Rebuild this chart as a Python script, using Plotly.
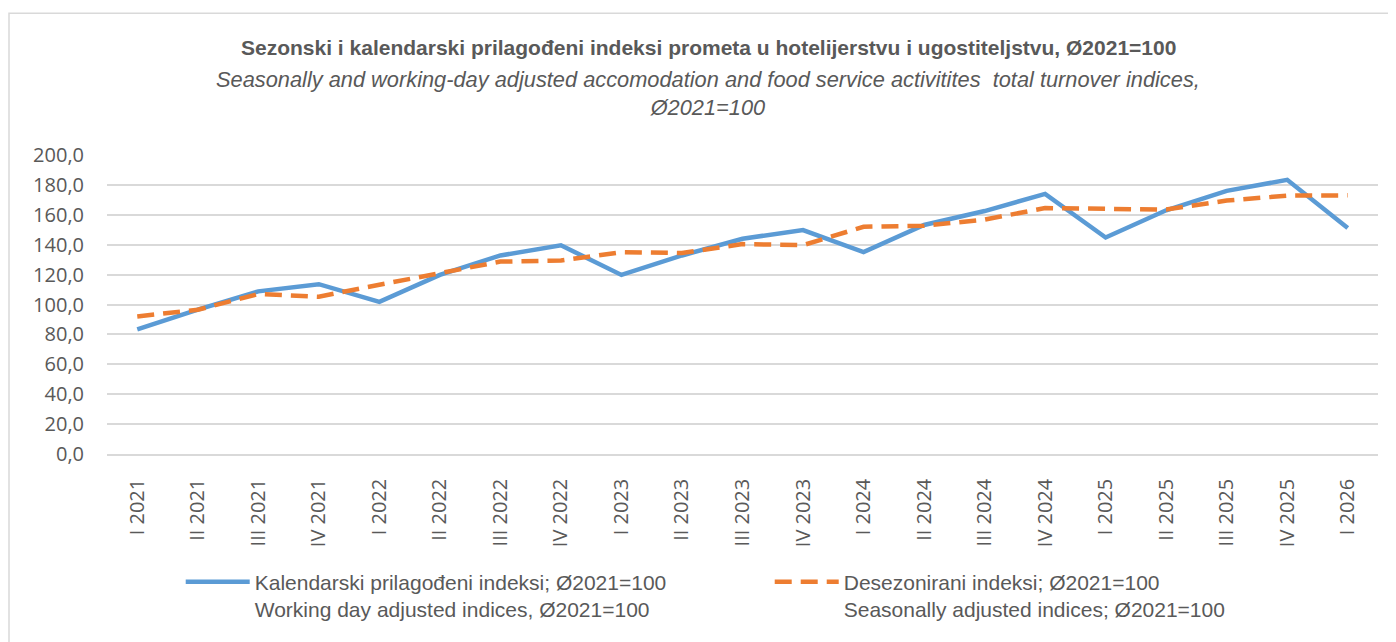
import plotly.graph_objects as go

categories = ["I 2021", "II 2021", "III 2021", "IV 2021",
              "I 2022", "II 2022", "III 2022", "IV 2022",
              "I 2023", "II 2023", "III 2023", "IV 2023",
              "I 2024", "II 2024", "III 2024", "IV 2024",
              "I 2025", "II 2025", "III 2025", "IV 2025",
              "I 2026"]

working_day_adjusted = [83.4, 96.5, 108.8, 113.6,
                        101.8, 119.8, 132.8, 139.6,
                        119.8, 132.8, 144.0, 149.8,
                        135.0, 153.2, 162.5, 174.0,
                        144.8, 163.0, 176.0, 183.4,
                        151.2]

seasonally_adjusted = [92.0, 96.5, 107.0, 105.2,
                       113.2, 120.8, 128.7, 129.4,
                       135.0, 134.4, 140.4, 139.7,
                       152.0, 152.7, 156.8, 164.5,
                       164.2, 163.5, 169.5, 172.8,
                       173.0]

name_blue = "Kalendarski prilagođeni indeksi; Ø2021=100<br>Working day adjusted indices, Ø2021=100"
name_orange = "Desezonirani indeksi; Ø2021=100<br>Seasonally adjusted indices; Ø2021=100"

y_ticks = [0, 20, 40, 60, 80, 100, 120, 140, 160, 180, 200]

TXT = "#595959"
GRID = "#d9d9d9"
sans = "Liberation Sans, Arial, sans-serif"
tickfam = "Open Sans, DejaVu Sans, sans-serif"

fig = go.Figure()
fig.add_trace(go.Scatter(x=categories, y=working_day_adjusted, mode="lines",
                         name=name_blue,
                         line=dict(color="#5b9bd5", width=4.5)))
fig.add_trace(go.Scatter(x=categories, y=seasonally_adjusted, mode="lines",
                         name=name_orange,
                         line=dict(color="#ed7d31", width=4.5, dash="17px,9px")))

fig.update_layout(
    width=1396, height=642,
    paper_bgcolor="white", plot_bgcolor="white",
    margin=dict(l=99, r=26, t=147, b=196),
    separators=", ",
    font=dict(family=tickfam, color=TXT, size=20),
    showlegend=True,
    legend=dict(orientation="h", x=0.058, y=-0.36, xanchor="left", yanchor="top",
                font=dict(family=sans, size=21, color=TXT),
                entrywidth=510, entrywidthmode="pixels", valign="top",
                itemwidth=64, bgcolor="rgba(0,0,0,0)"),
)

fig.add_annotation(
    xref="paper", yref="paper", x=0.473, y=1.358, xanchor="center", yanchor="middle",
    text="<b>Sezonski i kalendarski prilagođeni indeksi prometa u hotelijerstvu i ugostiteljstvu, Ø2021=100</b>",
    showarrow=False, font=dict(family=sans, size=21, color=TXT))
fig.add_annotation(
    xref="paper", yref="paper", x=0.473, y=1.206, xanchor="center", yanchor="middle",
    text="<i>Seasonally and working-day adjusted accomodation and food service activitites  total turnover indices,<br>Ø2021=100</i>",
    showarrow=False, font=dict(family=sans, size=21.8, color=TXT))

fig.add_shape(type="rect", xref="paper", yref="paper",
              x0=-0.0771, x1=1.04, y0=-0.7, y1=1.474,
              line=dict(color=GRID, width=1.5), fillcolor="rgba(0,0,0,0)", layer="below")

fig.update_xaxes(type="category", tickangle=-90, showgrid=False,
                 showline=True, linecolor=GRID, linewidth=1.5,
                 ticks="", tickfont=dict(family=tickfam, size=20, color=TXT),
                 ticklabelstandoff=15, automargin=False,
                 range=[-0.5, len(categories) - 0.5])
fig.update_yaxes(range=[0, 200], tickvals=y_ticks, tickformat=".1f",
                 showgrid=True, gridcolor=GRID, gridwidth=1.5,
                 zeroline=False, showline=False, ticks="",
                 ticklabelstandoff=22, automargin=False,
                 tickfont=dict(family=tickfam, size=20, color=TXT))

fig.write_html("out.html")
